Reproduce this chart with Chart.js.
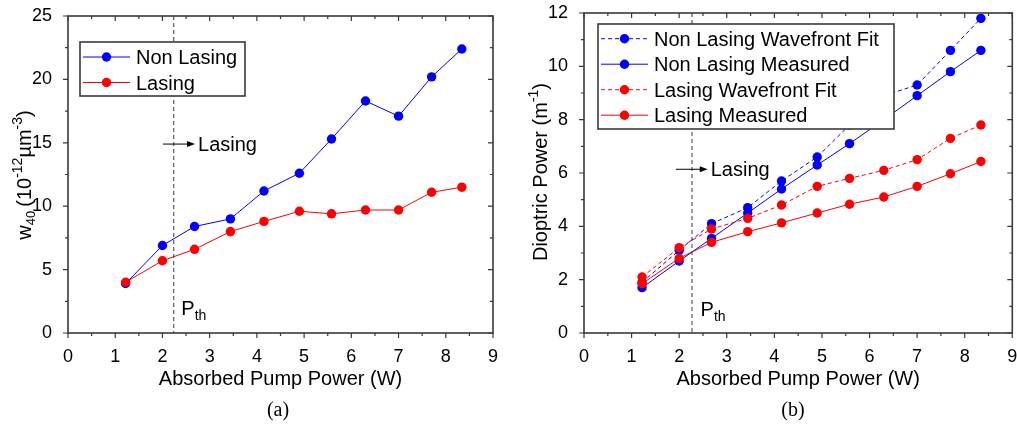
<!DOCTYPE html>
<html>
<head>
<meta charset="utf-8">
<script src="https://cdn.jsdelivr.net/npm/chart.js@4"></script>
<style>
  html, body { margin: 0; padding: 0; background: #fff; }
  #wrap { position: relative; width: 1017px; height: 425px; }
  .panel { position: absolute; top: 0; height: 425px; }
  #panelA { left: 0; width: 506px; }
  #panelB { left: 506px; width: 511px; }
</style>
</head>
<body>
<div id="wrap">
  <div class="panel" id="panelA"><canvas id="chartA"></canvas></div>
  <div class="panel" id="panelB"><canvas id="chartB"></canvas></div>
</div>
<script>
// Data
const power = [1.22, 2.0, 2.68, 3.44, 4.15, 4.9, 5.58, 6.3, 7.0, 7.7, 8.34];

// (a) w40 aberration
const w40NonLasing = [3.9, 6.9, 8.4, 9.0, 11.2, 12.6, 15.3, 18.3, 17.1, 20.2, 22.4];
const w40Lasing = [4.0, 5.7, 6.6, 8.0, 8.8, 9.6, 9.4, 9.7, 9.7, 11.1, 11.5];

// (b) dioptric power
const dpNonLasingFit = [1.9, 3.1, 4.1, 4.7, 5.7, 6.6, 7.8, 8.9, 9.3, 10.6, 11.8];
const dpNonLasingMeas = [1.7, 2.7, 3.55, 4.5, 5.4, 6.3, 7.1, 8.0, 8.9, 9.8, 10.6];
const dpLasingFit = [2.1, 3.2, 3.9, 4.3, 4.8, 5.5, 5.8, 6.1, 6.5, 7.3, 7.8];
const dpLasingMeas = [1.85, 2.8, 3.4, 3.8, 4.13, 4.5, 4.83, 5.1, 5.5, 5.97, 6.43];

// threshold markers
const pthA = 2.24;
const pthB = 2.27;

const SANS = "'Liberation Sans', Arial, sans-serif";
const SERIF = "'Liberation Serif', 'Times New Roman', serif";
const BLUE = "#0000ff";
const RED = "#ff0000";
const AXIS = "#3a3a3a";

function pts(ys) {
  return power.map((x, i) => ({ x: x, y: ys[i] }));
}

function series(label, ys, color, dashed, order) {
  return {
    label: label,
    data: pts(ys),
    borderColor: color,
    backgroundColor: color,
    borderWidth: 1,
    borderDash: dashed ? [4, 3] : [],
    pointRadius: 4.7,
    pointBorderWidth: 0,
    pointBackgroundColor: color,
    tension: 0,
    order: order,
  };
}

// draw a run of text pieces (with sub/superscripts) centered on (0,0)
function drawRuns(ctx, runs) {
  let total = 0;
  runs.forEach((r) => {
    ctx.font = r.size + "px " + SANS;
    r.w = ctx.measureText(r.t).width + (r.gap || 0);
    total += r.w;
  });
  let x = -total / 2;
  runs.forEach((r) => {
    ctx.font = r.size + "px " + SANS;
    ctx.fillText(r.t, x, r.dy || 0);
    x += r.w;
  });
}

const decorPlugin = {
  id: "decor",
  afterDraw(chart, args, o) {
    const ctx = chart.ctx;
    const a = chart.chartArea;
    const xs = chart.scales.x;
    const ys = chart.scales.y;
    ctx.save();

    // threshold dashed line
    const px = xs.getPixelForValue(o.pth);
    ctx.strokeStyle = AXIS;
    ctx.lineWidth = 1;
    ctx.setLineDash([4, 3]);
    ctx.beginPath();
    ctx.moveTo(px, a.top);
    ctx.lineTo(px, a.bottom);
    ctx.stroke();
    ctx.setLineDash([]);

    // frame
    ctx.strokeStyle = AXIS;
    ctx.lineWidth = 1.6;
    ctx.strokeRect(a.left, a.top, a.right - a.left, a.bottom - a.top);

    // ticks
    ctx.lineWidth = 1.2;
    ctx.beginPath();
    for (let v = 0; v <= 9.001; v += 0.5) {
      const x = xs.getPixelForValue(v);
      const len = Math.abs(v - Math.round(v)) < 0.01 ? 5 : 3;
      ctx.moveTo(x, a.bottom);
      ctx.lineTo(x, a.bottom + len);
      ctx.moveTo(x, a.top);
      ctx.lineTo(x, a.top + len);
    }
    for (let v = 0; v <= o.yMax + 0.001; v += o.yMinor) {
      const y = ys.getPixelForValue(v);
      const major = Math.abs(v / o.yStep - Math.round(v / o.yStep)) < 0.01;
      const len = major ? 5 : 3;
      ctx.moveTo(a.left, y);
      ctx.lineTo(a.left - len, y);
      ctx.moveTo(a.right, y);
      ctx.lineTo(a.right - len, y);
    }
    ctx.stroke();

    ctx.fillStyle = "#000";
    ctx.textBaseline = "alphabetic";
    ctx.textAlign = "left";

    // arrow "Lasing"
    const ax0 = xs.getPixelForValue(o.arrow.x0);
    const ax1 = xs.getPixelForValue(o.arrow.x1);
    const ay = ys.getPixelForValue(o.arrow.y);
    ctx.strokeStyle = "#000";
    ctx.lineWidth = 1;
    ctx.beginPath();
    ctx.moveTo(ax0, ay);
    ctx.lineTo(ax1 - 6, ay);
    ctx.stroke();
    ctx.beginPath();
    ctx.moveTo(ax1, ay);
    ctx.lineTo(ax1 - 8, ay - 3);
    ctx.lineTo(ax1 - 8, ay + 3);
    ctx.closePath();
    ctx.fill();
    ctx.font = "20px " + SANS;
    ctx.fillText("Lasing", ax1 + 3, ay + 7);

    // P_th label
    const tx = xs.getPixelForValue(o.pthLabel.x);
    const ty = ys.getPixelForValue(o.pthLabel.y);
    ctx.font = "20px " + SANS;
    ctx.fillText("P", tx, ty);
    const pw = ctx.measureText("P").width;
    ctx.font = "14px " + SANS;
    ctx.fillText("th", tx + pw, ty + 5);

    // legend
    const L = o.legend;
    ctx.fillStyle = "#fff";
    ctx.fillRect(L.x, L.y, L.w, L.h);
    ctx.strokeStyle = AXIS;
    ctx.lineWidth = 1.6;
    ctx.strokeRect(L.x, L.y, L.w, L.h);
    chart.data.datasets.forEach((ds, i) => {
      const ry = L.row0 + i * L.rowStep;
      ctx.strokeStyle = ds.borderColor;
      ctx.lineWidth = 1;
      ctx.setLineDash(ds.borderDash);
      ctx.beginPath();
      ctx.moveTo(L.s0, ry);
      ctx.lineTo(L.s1, ry);
      ctx.stroke();
      ctx.setLineDash([]);
      ctx.fillStyle = ds.borderColor;
      ctx.beginPath();
      ctx.arc((L.s0 + L.s1) / 2, ry, 4.7, 0, Math.PI * 2);
      ctx.fill();
      ctx.fillStyle = "#000";
      ctx.font = "20px " + SANS;
      ctx.fillText(ds.label, L.tx, ry + 7);
    });

    // x axis title
    ctx.fillStyle = "#000";
    ctx.save();
    ctx.translate((a.left + a.right) / 2, o.xTitleY);
    drawRuns(ctx, [{ t: "Absorbed Pump Power (W)", size: 20 }]);
    ctx.restore();

    // y axis title
    ctx.save();
    ctx.translate(o.yTitle.x, o.yTitle.y);
    ctx.rotate(-Math.PI / 2);
    drawRuns(ctx, o.yTitle.runs);
    ctx.restore();

    // caption
    ctx.font = "20px " + SERIF;
    ctx.textAlign = "center";
    ctx.fillText(o.caption, o.captionX, o.captionY);

    ctx.restore();
  },
};

function makeChart(id, datasets, opts) {
  const canvas = document.getElementById(id);
  const W = canvas.parentNode.clientWidth;
  const H = canvas.parentNode.clientHeight;
  return new Chart(canvas.getContext("2d"), {
    type: "line",
    data: { datasets: datasets },
    options: {
      responsive: true,
      maintainAspectRatio: false,
      animation: false,
      layout: {
        padding: { left: 0, top: opts.area.top, right: W - opts.area.right, bottom: 0 },
      },
      plugins: {
        legend: { display: false },
        tooltip: { enabled: false },
        decor: opts,
      },
      scales: {
        x: {
          type: "linear",
          min: 0,
          max: 9,
          grid: { display: false },
          border: { display: false },
          ticks: { stepSize: 1, color: "#000", padding: 5, font: { family: SANS, size: 18 } },
          afterFit: (s) => {
            s.height = H - opts.area.bottom;
            s.paddingLeft = 0;
            s.paddingRight = 0;
          },
        },
        y: {
          type: "linear",
          min: 0,
          max: opts.yMax,
          grid: { display: false },
          border: { display: false },
          ticks: { stepSize: opts.yStep, color: "#000", padding: 8, font: { family: SANS, size: 18 } },
          afterFit: (s) => {
            s.width = opts.area.left;
            s.paddingTop = 0;
            s.paddingBottom = 0;
          },
        },
      },
    },
    plugins: [decorPlugin],
  });
}

makeChart(
  "chartA",
  [
    series("Non Lasing", w40NonLasing, BLUE, false, 1),
    series("Lasing", w40Lasing, RED, false, 0),
  ],
  {
    area: { left: 68, top: 16, right: 493, bottom: 333 },
    yMax: 25, yStep: 5, yMinor: 2.5,
    pth: pthA,
    arrow: { x0: 2.01, x1: 2.69, y: 14.9 },
    pthLabel: { x: 2.4, y: 1.4 },
    legend: { x: 80, y: 42, w: 165, h: 54, row0: 57, rowStep: 25.5, s0: 83, s1: 130, tx: 136 },
    xTitleY: 385,
    yTitle: {
      x: 31, y: 175,
      runs: [
        { t: "w", size: 20 },
        { t: "40", size: 13, dy: 4, gap: 4 },
        { t: "(10", size: 20 },
        { t: "-12", size: 14, dy: -9 },
        { t: "\u00b5m", size: 20 },
        { t: "-3", size: 14, dy: -9 },
        { t: ")", size: 20 },
      ],
    },
    caption: "(a)",
    captionX: 278,
    captionY: 416,
  }
);

makeChart(
  "chartB",
  [
    series("Non Lasing Wavefront Fit", dpNonLasingFit, BLUE, true, 3),
    series("Non Lasing Measured", dpNonLasingMeas, BLUE, false, 2),
    series("Lasing Wavefront Fit", dpLasingFit, RED, true, 1),
    series("Lasing Measured", dpLasingMeas, RED, false, 0),
  ],
  {
    area: { left: 78, top: 13, right: 507, bottom: 333 },
    yMax: 12, yStep: 2, yMinor: 1,
    pth: pthB,
    arrow: { x0: 1.93, x1: 2.6, y: 6.14 },
    pthLabel: { x: 2.45, y: 0.63 },
    legend: { x: 92, y: 24, w: 296, h: 105, row0: 38.7, rowStep: 25.5, s0: 95, s1: 142, tx: 148 },
    xTitleY: 385,
    yTitle: {
      x: 41, y: 172,
      runs: [
        { t: "Dioptric Power (m", size: 20 },
        { t: "-1", size: 14, dy: -9 },
        { t: ")", size: 20 },
      ],
    },
    caption: "(b)",
    captionX: 287,
    captionY: 416,
  }
);
</script>
</body>
</html>
